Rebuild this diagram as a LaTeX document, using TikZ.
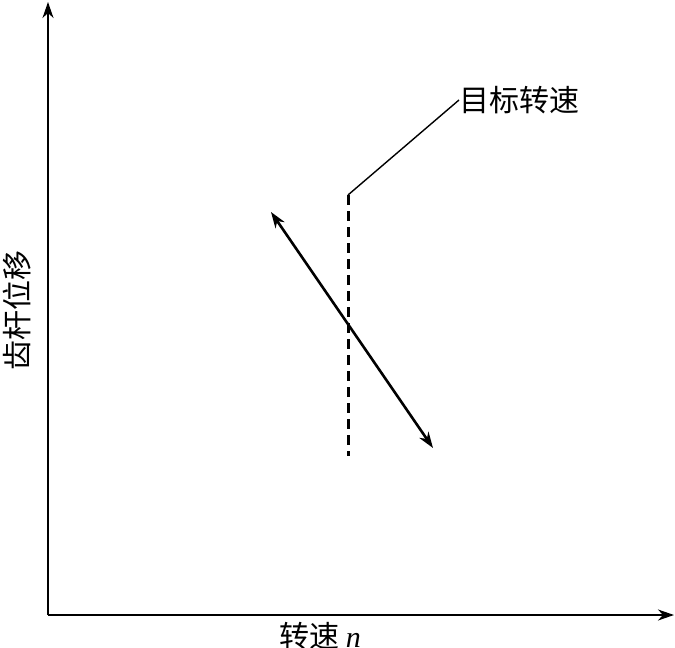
\documentclass[tikz,border=0pt]{standalone}
\usepackage{fontspec}
\newfontfamily\cjk{Noto Sans CJK SC}
\newfontfamily\latinit{Liberation Serif}
\usetikzlibrary{arrows.meta}
\begin{document}
\begin{tikzpicture}[x=1pt,y=-1pt,
  axis/.style={line width=1.8pt,-{Stealth[length=16pt,width=11pt,inset=5pt]}},
  lbl/.style={font=\cjk\fontsize{30}{34}\selectfont,inner sep=0pt},
  dbl/.style={line width=2.6pt,{Stealth[length=16pt,width=11pt,inset=5pt]}-{Stealth[length=16pt,width=11pt,inset=5pt]}},
  dsh/.style={line width=3pt,dash pattern=on 10pt off 6pt},
  lead/.style={line width=1.4pt}]
\useasboundingbox (0,0) rectangle (675,648);
\coordinate (O) at (48,615);
\coordinate (ytip) at (48,2);
\coordinate (xtip) at (674,615);
\draw[axis] (O) -- (ytip);
\draw[axis] (O) -- (xtip);
\node[lbl,rotate=90] (ylab) at (17,310) {齿杆位移};
\node[lbl,anchor=north] (xlab) at (320,622) {转速 {\latinit\itshape n}};
\coordinate (dtop) at (348,195);
\coordinate (dbot) at (348,456);
\draw[dsh] (dtop) -- (dbot);
\node[lbl,anchor=west] (tgt) at (459,100) {目标转速};
\draw[lead] (dtop) -- (tgt.west);
\coordinate (a1) at (271,212);
\coordinate (a2) at (433,448);
\draw[dbl] (a1) -- (a2);
\end{tikzpicture}
\end{document}
